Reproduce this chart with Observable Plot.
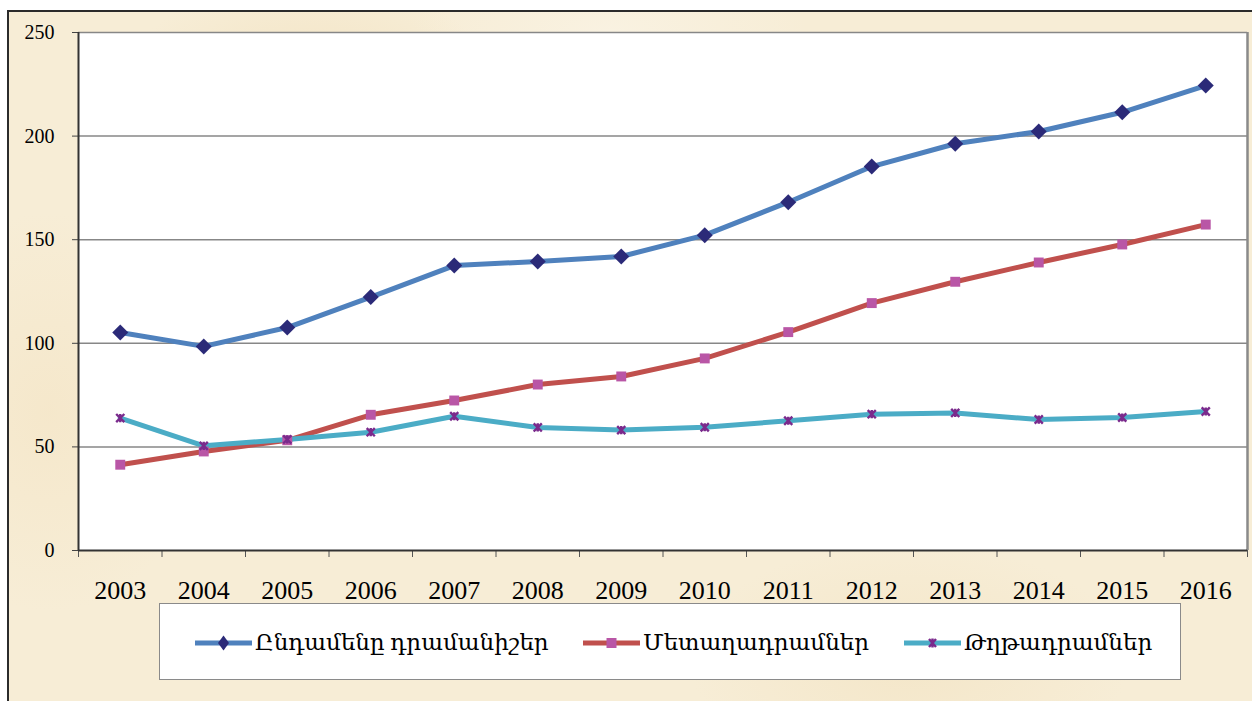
<!DOCTYPE html>
<html>
<head>
<meta charset="utf-8">
<script src="https://cdn.jsdelivr.net/npm/d3@7"></script>
<script src="https://cdn.jsdelivr.net/npm/@observablehq/plot@0.6"></script>
<style>
  html, body { margin: 0; padding: 0; background: #ffffff; width: 1252px; height: 701px; overflow: hidden; }
  #frame {
    position: absolute; left: 7px; top: 10px; width: 1245px; height: 691px;
    border-left: 2px solid #2b2b2b; border-top: 2px solid #2b2b2b;
    background: #f7edd6;
    background-image:
      radial-gradient(ellipse 180px 90px at 300px 60px, rgba(240,222,185,0.55), rgba(0,0,0,0)),
      radial-gradient(ellipse 220px 120px at 900px 650px, rgba(242,226,192,0.6), rgba(0,0,0,0)),
      radial-gradient(ellipse 160px 200px at 40px 400px, rgba(244,228,196,0.6), rgba(0,0,0,0)),
      radial-gradient(ellipse 200px 80px at 600px 20px, rgba(250,244,230,0.7), rgba(0,0,0,0));
  }
  #chart { position: absolute; left: 0; top: 0; }
  #legend {
    position: absolute; left: 159px; top: 603px; width: 1022px; height: 77px;
    background: #ffffff; border: 1px solid #8a8a8a; box-sizing: border-box;
  }
  .item { position: absolute; top: 0; height: 77px; display: flex; align-items: center; }
  .item span { font-family: "Liberation Serif", "DejaVu Serif", serif; font-size: 23px; color: #000; margin-left: 3px; white-space: nowrap; }
</style>
</head>
<body>
<div id="frame"></div>
<div id="chart"></div>
<div id="legend"></div>
<script>
const years = [2003, 2004, 2005, 2006, 2007, 2008, 2009, 2010, 2011, 2012, 2013, 2014, 2015, 2016];
const total = [105.2, 98.5, 107.6, 122.3, 137.5, 139.5, 141.9, 152.2, 168.1, 185.3, 196.3, 202.2, 211.5, 224.4];
const coins = [41.4, 47.8, 53.2, 65.5, 72.4, 80.1, 84.0, 92.7, 105.4, 119.4, 129.7, 139.0, 147.7, 157.3];
const notes = [63.9, 50.5, 53.6, 57.1, 64.8, 59.4, 58.1, 59.5, 62.6, 65.8, 66.4, 63.2, 64.2, 67.1];
const seriesNames = ["Ընդամենը դրամանիշեր", "Մետաղադրամներ", "Թղթադրամներ"];
const yTicks = [0, 50, 100, 150, 200, 250];

const lineColors = ["#4f81bd", "#c0504d", "#4bacc6"];
const markColors = ["#2b2a78", "#b956a6", "#7a2a8c"];

// Excel-like "star" marker: an X with a vertical bar
const starSymbol = {
  draw(context, size) {
    const r = Math.sqrt(size) * 0.5;
    context.moveTo(-r, -r); context.lineTo(r, r);
    context.moveTo(r, -r); context.lineTo(-r, r);
    context.moveTo(0, -r); context.lineTo(0, r);
  }
};

const rows = (vals) => years.map((yr, i) => ({year: yr, value: vals[i]}));
const seriesData = [rows(total), rows(coins), rows(notes)];
const bounds = years.map(y => y - 0.5).concat([years[years.length - 1] + 0.5]);
const xMin = bounds[0], xMax = bounds[bounds.length - 1];
const yMax = yTicks[yTicks.length - 1];

const chart = Plot.plot({
  width: 1252,
  height: 600,
  marginLeft: 78,
  marginRight: 5,
  marginTop: 32,
  marginBottom: 50,
  style: {background: "transparent", fontFamily: "Liberation Serif, serif", color: "#000", overflow: "visible"},
  x: {type: "linear", domain: [xMin, xMax]},
  y: {domain: [0, yMax]},
  marks: [
    Plot.frame({fill: "#ffffff", stroke: null}),
    Plot.ruleY(yTicks.slice(1), {stroke: "#878787", strokeWidth: 1.5}),
    Plot.ruleX([xMax], {stroke: "#8a8a8a", strokeWidth: 2.5}),
    Plot.axisY(yTicks, {tickSize: 6, tickPadding: 18, fontSize: 20, stroke: "#444", fill: "#000", label: null, tickFormat: d => String(d)}),
    Plot.axisX(bounds, {tickSize: 7, stroke: "#555", tickFormat: () => "", label: null}),
    Plot.axisX(years, {tickSize: 0, tickPadding: 30.5, fontSize: 26, fill: "#000", tickFormat: d => String(d), label: null}),
    Plot.ruleX([xMin], {stroke: "#333", strokeWidth: 2}),
    Plot.ruleY([0], {stroke: "#333", strokeWidth: 2}),
    Plot.line(seriesData[0], {x: "year", y: "value", stroke: lineColors[0], strokeWidth: 5}),
    Plot.line(seriesData[1], {x: "year", y: "value", stroke: lineColors[1], strokeWidth: 5}),
    Plot.line(seriesData[2], {x: "year", y: "value", stroke: lineColors[2], strokeWidth: 5}),
    Plot.dot(seriesData[0], {x: "year", y: "value", symbol: "diamond2", r: 7.2, fill: markColors[0], stroke: null}),
    Plot.dot(seriesData[1], {x: "year", y: "value", symbol: "square", r: 5.6, fill: markColors[1], stroke: null}),
    Plot.dot(seriesData[2], {x: "year", y: "value", symbol: starSymbol, r: 4.6, stroke: markColors[2], strokeWidth: 2.4, fill: "none"})
  ]
});
document.getElementById("chart").appendChild(chart);

// Legend
const legend = document.getElementById("legend");
const itemLeft = [35, 423, 744];
const ns = "http://www.w3.org/2000/svg";
seriesNames.forEach((name, i) => {
  const item = document.createElement("div");
  item.className = "item";
  item.style.left = itemLeft[i] + "px";
  const svg = document.createElementNS(ns, "svg");
  svg.setAttribute("width", 57); svg.setAttribute("height", 20);
  const ln = document.createElementNS(ns, "line");
  ln.setAttribute("x1", 0); ln.setAttribute("x2", 57); ln.setAttribute("y1", 10); ln.setAttribute("y2", 10);
  ln.setAttribute("stroke", lineColors[i]); ln.setAttribute("stroke-width", 5);
  ln.setAttribute("stroke-linecap", "round");
  svg.appendChild(ln);
  const m = document.createElementNS(ns, "path");
  if (i === 0) { m.setAttribute("d", "M28.5,2.5 L34,10 L28.5,17.5 L23,10 Z"); m.setAttribute("fill", markColors[0]); }
  else if (i === 1) { m.setAttribute("d", "M23.5,5 h10 v10 h-10 Z"); m.setAttribute("fill", markColors[1]); }
  else { m.setAttribute("d", "M25,6 L32,14 M32,6 L25,14 M28.5,5.5 L28.5,14.5"); m.setAttribute("stroke", markColors[2]); m.setAttribute("stroke-width", 2.4); m.setAttribute("fill", "none"); }
  svg.appendChild(m);
  item.appendChild(svg);
  const sp = document.createElement("span");
  sp.textContent = name;
  item.appendChild(sp);
  legend.appendChild(item);
});
</script>
</body>
</html>
